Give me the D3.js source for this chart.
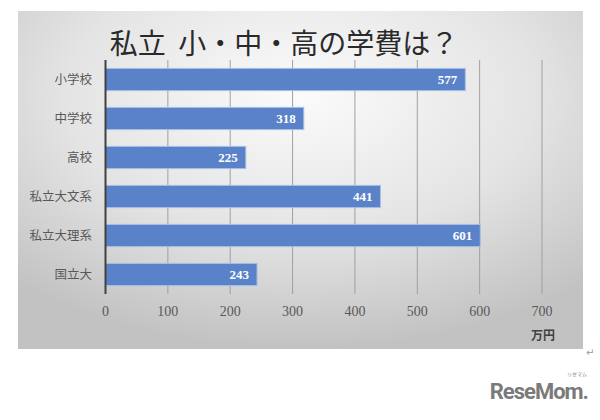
<!DOCTYPE html>
<html><head><meta charset="utf-8">
<script src="https://cdn.jsdelivr.net/npm/d3@7"></script>
<style>body{margin:0;background:#fff}svg{display:block}</style>
</head><body><div id="c"></div>
<script>
const categories = ["小学校","中学校","高校","私立大文系","私立大理系","国立大"];
const values = [577,318,225,441,601,243];
const tickValues = [0,100,200,300,400,500,600,700];
const titleText = "私立  小・中・高の学費は？";
const unitText = "万円";

const W=600,H=420;
const svg=d3.select("#c").append("svg").attr("width",W).attr("height",H);
const defs=svg.append("defs");
const rg=defs.append("radialGradient").attr("id","bg").attr("cx","0.5").attr("cy","0.25").attr("r","0.75");
rg.append("stop").attr("offset","0").attr("stop-color","#fbfbfb");
rg.append("stop").attr("offset","0.55").attr("stop-color","#e4e4e4");
rg.append("stop").attr("offset","1").attr("stop-color","#c2c2c2");
svg.append("rect").attr("x",18).attr("y",11).attr("width",565).attr("height",338).attr("fill","url(#bg)");

const x=d3.scaleLinear().domain([0,700]).range([105.5,542]);
const y=d3.scaleBand().domain(categories).range([60,294]).paddingInner(0.43).paddingOuter(0.215);
const serif="'Liberation Serif','Noto Sans CJK JP',serif";

svg.append("g").selectAll("line").data(tickValues.slice(1)).join("line")
 .attr("x1",d=>x(d)).attr("x2",d=>x(d)).attr("y1",60).attr("y2",294)
 .attr("stroke","#a0a0a0").attr("stroke-width",1);

svg.append("g").selectAll("rect").data(values).join("rect")
 .attr("x",x(0)).attr("y",(d,i)=>y(categories[i]))
 .attr("width",d=>x(d)-x(0)).attr("height",y.bandwidth())
 .attr("fill","#5a82c8").attr("stroke","#a9c0e6").attr("stroke-width",1);

svg.append("g").selectAll("text").data(values).join("text")
 .attr("x",d=>x(d)-8).attr("y",(d,i)=>y(categories[i])+y.bandwidth()/2)
 .attr("dy","0.35em").attr("text-anchor","end")
 .attr("font-family",serif).attr("font-weight","bold").attr("font-size",13).attr("fill","#fff")
 .text(d=>d);

svg.append("line").attr("x1",x(0)).attr("x2",x(0)).attr("y1",60).attr("y2",294)
 .attr("stroke","#404040").attr("stroke-width",2);

svg.append("g").selectAll("text").data(categories).join("text")
 .attr("x",92).attr("y",d=>y(d)+y.bandwidth()/2).attr("dy","0.35em").attr("text-anchor","end")
 .attr("font-family","'Noto Sans CJK JP',sans-serif").attr("font-size",12.5).attr("fill","#595959")
 .text(d=>d);

svg.append("g").selectAll("text").data(tickValues).join("text")
 .attr("x",d=>x(d)).attr("y",316).attr("text-anchor","middle")
 .attr("font-family",serif).attr("font-size",14).attr("fill","#595959").text(d=>d);

svg.append("text").attr("x",543).attr("y",340).attr("text-anchor","middle")
 .attr("font-family","'Noto Sans CJK JP',serif").attr("font-weight","bold").attr("font-size",12).attr("fill","#404040").text(unitText);

svg.append("text").attr("x",284).attr("y",54).attr("text-anchor","middle")
 .attr("font-family","'Noto Sans CJK JP',sans-serif").attr("font-size",28).attr("fill","#2a2a2a")
 .style("white-space","pre").text(titleText);

svg.append("text").attr("x",586).attr("y",356).attr("font-family","'DejaVu Sans'").attr("font-size",10).attr("fill","#999").text("↵");

svg.append("text").attr("x",588).attr("y",399).attr("text-anchor","end")
 .attr("font-family","'Roboto','Liberation Sans',sans-serif").attr("font-weight","bold").attr("font-size",22)
 .attr("fill","#7a7a7a").attr("letter-spacing","-1").text("ReseMom.");
svg.append("text").attr("x",577).attr("y",376).attr("text-anchor","middle")
 .attr("font-family","'Noto Sans CJK JP'").attr("font-size",5).attr("fill","#7a7a7a").text("リセマム");
</script></body></html>
